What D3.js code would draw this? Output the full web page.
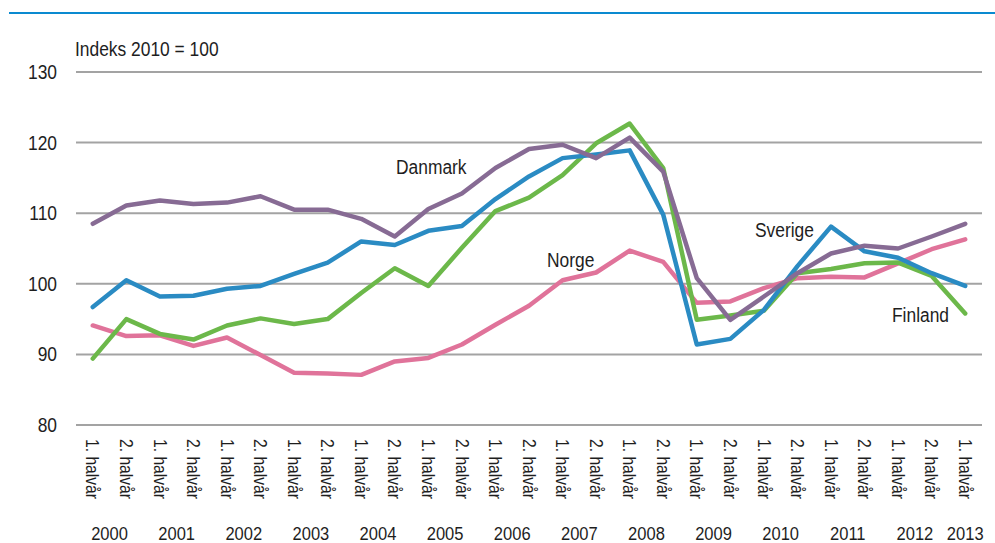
<!DOCTYPE html>
<html>
<head>
<meta charset="utf-8">
<script src="https://cdn.jsdelivr.net/npm/d3@7"></script>
<style>
  html, body { margin: 0; padding: 0; background: #fff; }
  svg text { font-family: "Liberation Sans", Arial, sans-serif; fill: #1e1e1e; }
</style>
</head>
<body>
<div id="chart"></div>
<script>
"use strict";

// half-year periods, 2000 H1 .. 2013 H1
var years = ["2000", "2001", "2002", "2003", "2004", "2005", "2006", "2007",
  "2008", "2009", "2010", "2011", "2012", "2013"];
var halves = ["1. halvår", "2. halvår"];
var yTicks = [80, 90, 100, 110, 120, 130];

var danmark = [108.5, 111.1, 111.8, 111.3, 111.5, 112.4, 110.5, 110.5, 109.2, 106.7,
  110.6, 112.8, 116.4, 119.1, 119.7, 117.8, 120.7, 115.9, 100.8, 94.9,
  98.2, 101.5, 104.3, 105.4, 105.0, 106.7, 108.5];
var sverige = [96.7, 100.5, 98.2, 98.3, 99.3, 99.7, 101.4, 103.0, 106.0, 105.5,
  107.5, 108.2, 112.0, 115.2, 117.8, 118.3, 118.9, 109.8, 91.4, 92.2,
  96.3, 102.5, 108.1, 104.6, 103.7, 101.5, 99.7];
var finland = [89.4, 95.0, 92.9, 92.1, 94.1, 95.1, 94.3, 95.0, 98.7, 102.2,
  99.7, 105.1, 110.3, 112.2, 115.4, 119.9, 122.7, 116.4, 94.9, 95.5,
  96.2, 101.5, 102.1, 102.9, 103.0, 101.1, 95.8];
var norge = [94.1, 92.6, 92.7, 91.2, 92.4, 89.9, 87.4, 87.3, 87.1, 89.0,
  89.5, 91.4, 94.2, 96.9, 100.5, 101.6, 104.7, 103.1, 97.3, 97.5,
  99.4, 100.8, 101.0, 100.9, 102.9, 104.9, 106.3];

var periods = [];
years.forEach(function(y) {
  halves.forEach(function(h, j) {
    if (y === "2013" && j === 1) {
      return;
    }
    periods.push({ key: y + "-" + (j + 1), year: y, label: h });
  });
});

var series = [
  { name: "Norge", values: norge, color: "#e0739a", lx: 547, ly: 267 },
  { name: "Finland", values: finland, color: "#6cb84a", lx: 892, ly: 322 },
  { name: "Sverige", values: sverige, color: "#2a8bc3", lx: 755, ly: 237 },
  { name: "Danmark", values: danmark, color: "#876b94", lx: 396, ly: 174 }
];

var width = 995, height = 543;
var margin = { top: 72, right: 13, bottom: 118, left: 76 };
var narrow = 0.87; // squeeze to look like a narrow face

function narrowText(sel, tx, ty, rot) {
  sel.attr("transform", function(d, i) {
    return "translate(" + tx(d, i) + "," + ty(d, i) + ")" +
      (rot ? " rotate(" + rot + ")" : "") + " scale(" + narrow + ",1)";
  });
  return sel;
}

var svg = d3.select("#chart").append("svg")
  .attr("width", width)
  .attr("height", height);

// top rule
svg.append("line")
  .attr("x1", 9).attr("x2", width)
  .attr("y1", 13).attr("y2", 13)
  .style("stroke", "#0a8ad0")
  .style("stroke-width", 2);

var x = d3.scalePoint()
  .domain(periods.map(function(d) { return d.key; }))
  .range([margin.left, width - margin.right])
  .padding(0.5);

var y = d3.scaleLinear()
  .domain([80, 130])
  .range([height - margin.bottom, margin.top]);

// gridlines
svg.append("g")
  .selectAll("line")
  .data(yTicks)
  .enter()
  .append("line")
  .attr("x1", margin.left)
  .attr("x2", width - margin.right)
  .attr("y1", function(d) { return y(d); })
  .attr("y2", function(d) { return y(d); })
  .style("stroke", "#a3a3a3")
  .style("stroke-width", 2);

// y labels
narrowText(svg.append("g")
  .selectAll("text")
  .data(yTicks)
  .enter()
  .append("text"),
  function() { return 57; }, function(d) { return y(d); })
  .attr("dy", "0.35em")
  .attr("text-anchor", "end")
  .style("font-size", "20px")
  .text(function(d) { return d; });

narrowText(svg.append("text").datum(0), function() { return 75; }, function() { return 56; })
  .style("font-size", "20px")
  .text("Indeks 2010 = 100");

// x half-year labels, rotated
narrowText(svg.append("g")
  .selectAll("text")
  .data(periods)
  .enter()
  .append("text"),
  function(d) { return x(d.key); }, function() { return 439; }, 90)
  .attr("dy", "0.35em")
  .style("font-size", "18px")
  .text(function(d) { return d.label; });

// year labels
narrowText(svg.append("g")
  .selectAll("text")
  .data(years)
  .enter()
  .append("text"),
  function(yr) {
    var ks = periods.filter(function(p) { return p.year === yr; })
      .map(function(p) { return x(p.key); });
    return d3.mean(ks);
  },
  function() { return 540; })
  .attr("text-anchor", "middle")
  .style("font-size", "19px")
  .text(function(d) { return d; });

var line = d3.line()
  .x(function(d, i) { return x(periods[i].key); })
  .y(function(d) { return y(d); });

svg.append("g")
  .selectAll("path")
  .data(series)
  .enter()
  .append("path")
  .attr("d", function(s) { return line(s.values); })
  .style("fill", "none")
  .style("stroke", function(s) { return s.color; })
  .style("stroke-width", 4.5)
  .style("stroke-linejoin", "round")
  .style("stroke-linecap", "round");

narrowText(svg.append("g")
  .selectAll("text")
  .data(series)
  .enter()
  .append("text"),
  function(s) { return s.lx; }, function(s) { return s.ly; })
  .style("font-size", "20px")
  .text(function(s) { return s.name; });
</script>
</body>
</html>
